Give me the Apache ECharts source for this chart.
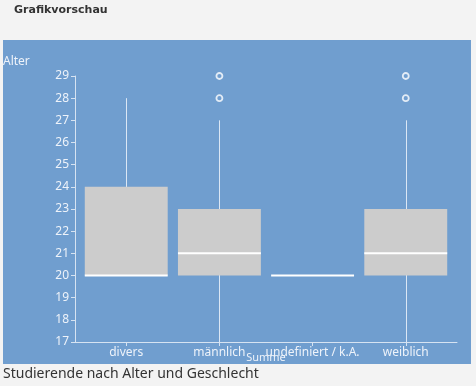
<!DOCTYPE html>
<html><head><meta charset="utf-8">
<script src="https://cdn.jsdelivr.net/npm/echarts@6/dist/echarts.min.js"></script>
<style>html,body{margin:0;padding:0;background:#f3f3f3;}#c{width:476px;height:386px;}</style>
</head><body><div id="c"></div>
<script>
const categories = ['divers', 'männlich', 'undefiniert / k.A.', 'weiblich'];
const mins    = [20, 17, 20, 17];
const q1s     = [20, 20, 20, 20];
const medians = [20, 21, 20, 21];
const q3s     = [24, 23, 20, 23];
const maxs    = [28, 27, 20, 27];
const outliers = [[1, 28], [1, 29], [3, 28], [3, 29]];
const yTicks = [17, 29];

const PANEL = '#709ecf';
const FONT = 'Noto Sans';
const boxData = categories.map((c, i) => [i, mins[i], q1s[i], medians[i], q3s[i], maxs[i]]);

const chart = echarts.init(document.getElementById('c'), null, {renderer: 'canvas'});
chart.setOption({
  backgroundColor: '#f3f3f3',
  animation: false,
  textStyle: {fontFamily: FONT},
  graphic: [
    {type: 'rect', z: -10, shape: {x: 3, y: 40, width: 468, height: 324}, style: {fill: PANEL}},
    {type: 'text', left: 14, top: 5, style: {text: 'Grafikvorschau', font: 'bold 11px "DejaVu Sans"', fill: '#333'}},
    {type: 'text', left: 3, top: 56, style: {text: 'Alter', font: '12px "' + FONT + '"', fill: '#eef3fa'}},
    {type: 'text', left: 3, top: 367, style: {text: 'Studierende nach Alter und Geschlecht', font: '14px "' + FONT + '"', fill: '#333'}}
  ],
  grid: {left: 75, right: 19, top: 76, bottom: 44},
  xAxis: {
    type: 'value', min: -0.55, max: 3.55,
    name: 'Summe', nameLocation: 'middle', nameGap: 10, nameMoveOverlap: false,
    nameTextStyle: {color: '#eef3fa', fontSize: 11},
    splitLine: {show: false},
    axisLine: {show: true, onZero: false, lineStyle: {color: '#d6e3f2', width: 1}},
    axisTick: {show: true, customValues: [0, 1, 2, 3], length: 4, lineStyle: {color: '#d6e3f2'}},
    axisLabel: {customValues: [0, 1, 2, 3], formatter: v => categories[Math.round(v)], color: '#eef3fa', fontSize: 12, margin: 5}
  },
  yAxis: {
    type: 'value', min: yTicks[0], max: yTicks[1], interval: 1,
    splitLine: {show: false},
    axisLine: {show: true, onZero: false, lineStyle: {color: '#d6e3f2', width: 1}},
    axisTick: {show: true, length: 4, lineStyle: {color: '#d6e3f2'}},
    axisLabel: {color: '#eef3fa', fontSize: 12, margin: 6}
  },
  series: [
    {
      type: 'custom',
      data: boxData,
      encode: {x: 0, y: [1, 2, 3, 4, 5]},
      renderItem: function (params, api) {
        const x = api.value(0);
        const w = api.size([1, 0])[0] * 0.89;
        const pMin = api.coord([x, api.value(1)]);
        const pQ1 = api.coord([x, api.value(2)]);
        const pMed = api.coord([x, api.value(3)]);
        const pQ3 = api.coord([x, api.value(4)]);
        const pMax = api.coord([x, api.value(5)]);
        const cx = Math.round(pMin[0]) + 0.5;
        return {
          type: 'group',
          children: [
            {type: 'line', shape: {x1: cx, y1: pMin[1], x2: cx, y2: pMax[1]}, style: {stroke: '#dbe7f5', lineWidth: 1}},
            {type: 'rect', shape: {x: pQ1[0] - w / 2, y: pQ3[1], width: w, height: pQ1[1] - pQ3[1]}, style: {fill: '#cccccc'}},
            {type: 'line', shape: {x1: pMed[0] - w / 2, y1: pMed[1], x2: pMed[0] + w / 2, y2: pMed[1]}, style: {stroke: '#ffffff', lineWidth: 2}}
          ]
        };
      }
    },
    {
      type: 'scatter',
      data: outliers,
      symbol: 'circle',
      symbolSize: 6,
      itemStyle: {color: PANEL, borderColor: '#ffffff', borderWidth: 1.8}
    }
  ]
});
</script></body></html>
